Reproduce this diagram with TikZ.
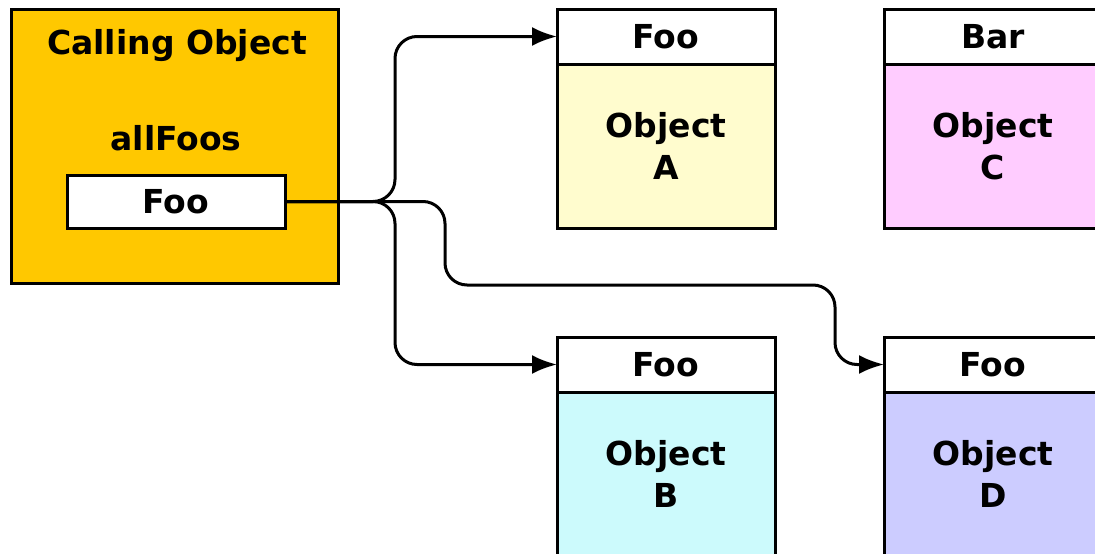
\documentclass[tikz,border=0pt]{standalone}
\usepackage{fontspec}
\setmainfont{DejaVu Sans}
\usetikzlibrary{positioning,arrows.meta}
\definecolor{callgold}{RGB}{255,200,0}
\definecolor{objyellow}{RGB}{255,252,206}
\definecolor{objpink}{RGB}{255,204,255}
\definecolor{objcyan}{RGB}{204,250,252}
\definecolor{objlilac}{RGB}{204,204,255}
\begin{document}
\begin{tikzpicture}[x=1pt, y=-1pt,
    box/.style={draw, line width=3pt, inner sep=0pt, outer sep=0pt,
      font=\fontsize{33}{42}\selectfont\bfseries},
    head/.style={box, fill=white, minimum width=218pt, minimum height=55pt},
    body/.style={box, minimum width=218pt, minimum height=164pt, align=center},
    wire/.style={line width=3pt, rounded corners=22pt,
      -{Latex[length=25pt,width=19pt]}}]
    \useasboundingbox (0,0) rectangle (1095,554);
    \clip (0,0) rectangle (1095,554);
    % Calling object
    \node[box, fill=callgold, minimum width=327pt, minimum height=274pt] (caller) at (174.5,146) {};
    \node[box, draw=none] (callTitle) at (177,46) {Calling Object};
    \node[box, draw=none] (allFoos) at (176,138) {allFoos};
    \node[box, fill=white, minimum width=218pt, minimum height=53pt] (inFoo) at (176,201.5) {Foo};

    % Objects
    \node[head] (fooA) at (666,36.5) {Foo};
    \node[body, fill=objyellow, below=0pt of fooA] (objA) {Object\\A};
    \node[head] (barC) at (993,36.5) {Bar};
    \node[body, fill=objpink, below=0pt of barC] (objC) {Object\\C};
    \node[head] (fooB) at (666,364.5) {Foo};
    \node[body, fill=objcyan, below=0pt of fooB] (objB) {Object\\B};
    \node[head] (fooD) at (993,364.5) {Foo};
    \node[body, fill=objlilac, below=0pt of fooD] (objD) {Object\\D};

    % References
    \coordinate (trunk) at (395,201.5);
    \coordinate (bendL) at (445,285);
    \coordinate (bendR) at (835,285);
    \draw[wire] (inFoo.east) -- (trunk) |- (fooA.west);
    \draw[wire] (inFoo.east) -- (trunk) |- (fooB.west);
    \draw[wire] (inFoo.east) -| (bendL) -- (bendR) |- (fooD.west);
\end{tikzpicture}
\end{document}
